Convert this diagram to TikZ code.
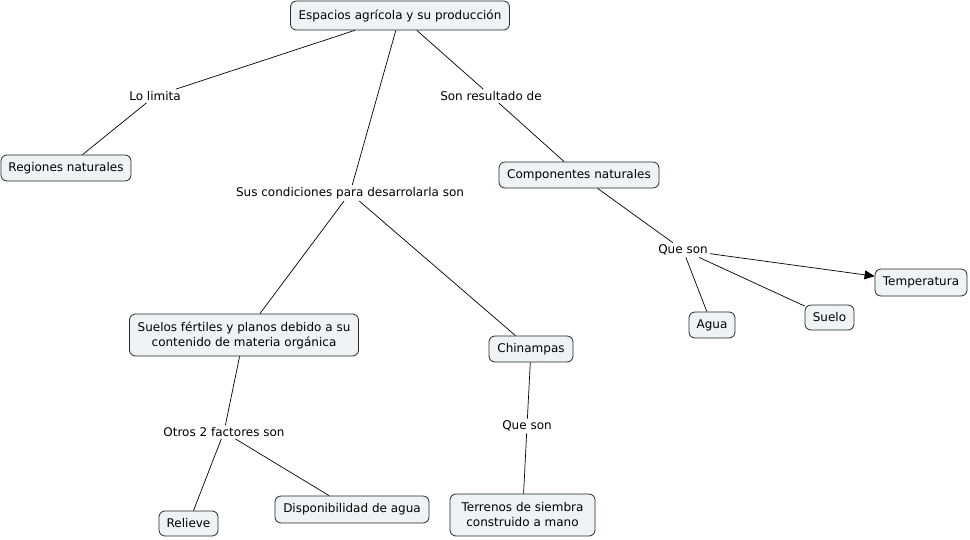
\documentclass[tikz,border=0pt]{standalone}
\usepackage{fontspec}
\setmainfont{DejaVu Sans}
\usetikzlibrary{arrows.meta}
\definecolor{boxfill}{RGB}{238,243,246}
\definecolor{boxline}{RGB}{40,40,40}
\tikzset{
  concept/.style={draw=boxline, fill=boxfill, rounded corners=6pt, line width=0.8pt,
    font=\fontsize{12}{15}\selectfont, align=center, inner sep=0pt, minimum height=26pt},
  linkword/.style={font=\fontsize{12}{15}\selectfont, inner sep=2pt, fill=white},
  link/.style={draw=black, line width=0.7pt},
}
\begin{document}
\begin{tikzpicture}[x=1pt,y=-1pt]
\useasboundingbox (0,0) rectangle (970,539);
% concepts
\node[concept, minimum width=219pt, minimum height=29pt] (top) at (400,15.5) {Espacios agrícola y su producción};
\node[concept, minimum width=130pt] (reg) at (66,168) {Regiones naturales};
\node[concept, minimum width=160pt] (comp) at (579,175) {Componentes naturales};
\node[concept, minimum width=229pt, minimum height=42pt] (suel) at (244,335) {Suelos fértiles y planos debido a su\\contenido de materia orgánica};
\node[concept, minimum width=84pt] (chin) at (531,349) {Chinampas};
\node[concept, minimum width=92pt, minimum height=27pt] (temp) at (921,282.5) {Temperatura};
\node[concept, minimum width=46pt] (agua) at (712,325) {Agua};
\node[concept, minimum width=49pt, minimum height=25pt] (suelo) at (829.5,317.5) {Suelo};
\node[concept, minimum width=59pt, minimum height=25pt] (rel) at (188.5,523.5) {Relieve};
\node[concept, minimum width=154pt, minimum height=27pt] (disp) at (352,509.5) {Disponibilidad de agua};
\node[concept, minimum width=145pt, minimum height=42pt] (terr) at (522.5,515) {Terrenos de siembra\\construido a mano};
% linking words
\node[linkword] (l1) at (155,96) {Lo limita};
\node[linkword] (l2) at (491,96) {Son resultado de};
\node[linkword] (l3) at (350,193) {Sus condiciones para desarrolarla son};
\node[linkword] (l4) at (683,250) {Que son};
\node[linkword] (l5) at (224,432) {Otros 2 factores son};
\node[linkword] (l6) at (527,426) {Que son};
% connectors
\draw[link] (top) -- (l1);
\draw[link] (l1) -- (reg);
\draw[link] (top) -- (l2);
\draw[link] (l2) -- (comp);
\draw[link] (top) -- (l3);
\draw[link] (l3) -- (suel);
\draw[link] (l3) -- (chin);
\draw[link] (comp) -- (l4);
\draw[link, -{Triangle[length=10pt,width=9pt]}] (l4) -- (temp);
\draw[link] (l4) -- (agua);
\draw[link] (l4) -- (suelo);
\draw[link] (suel) -- (l5);
\draw[link] (l5) -- (rel);
\draw[link] (l5) -- (disp);
\draw[link] (chin) -- (l6);
\draw[link] (l6) -- (terr);
\end{tikzpicture}
\end{document}
